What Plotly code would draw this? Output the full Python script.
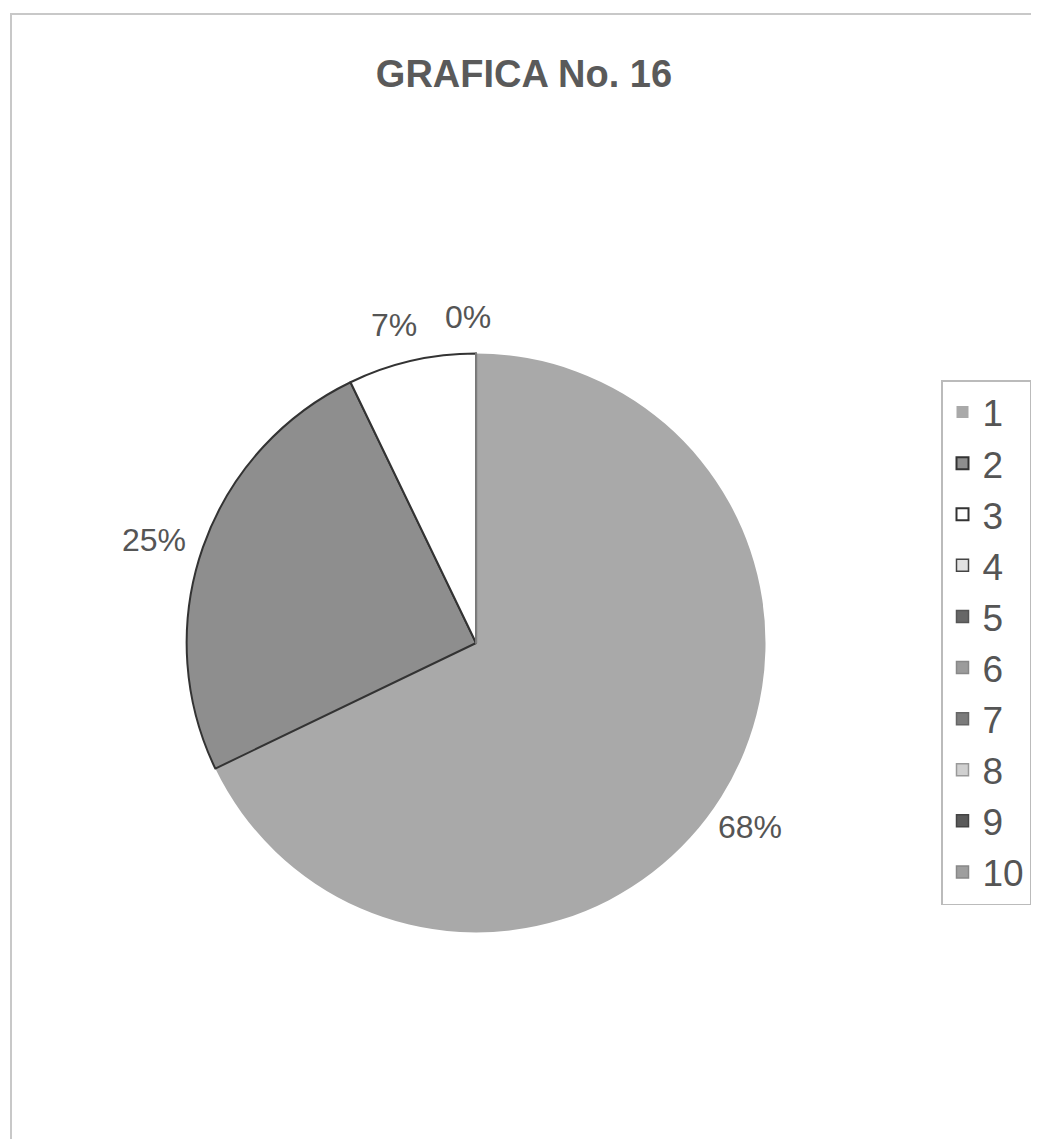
import math
import plotly.graph_objects as go

categories = ["1", "2", "3", "4", "5", "6", "7", "8", "9", "10"]
values = [19, 7, 2, 0, 0, 0, 0, 0, 0, 0]
show_label = [True, True, True, True, False, False, False, False, False, False]

colors = ["#a9a9a9", "#8e8e8e", "#ffffff", "#e2e2e2", "#676767",
          "#9b9b9b", "#7b7b7b", "#d0d0d0", "#5a5a5a", "#9e9e9e"]
line_colors = ["#a9a9a9", "#333333", "#333333", "#444444", "#555555",
               "#888888", "#666666", "#999999", "#444444", "#888888"]
line_widths = [0, 2, 2, 1.5, 1.5, 1.5, 1.5, 1.5, 1.5, 1.5]

# page body has an 8px margin; work in reference-pixel coordinates
OFF = 8
W, H = 1039 - 2 * OFF, 1147 - 2 * OFF


def px(x):
    return (x - OFF) / W


def py(y):
    return 1 - (y - OFF) / H


cx, cy, r = 477, 643, 290
label_factor = 1.15
label_dx, label_dy = -8, 7

fig = go.Figure()
fig.add_trace(go.Pie(
    labels=categories,
    values=values,
    sort=False,
    direction="clockwise",
    rotation=0,
    marker=dict(colors=colors, line=dict(color=line_colors, width=line_widths)),
    textinfo="none",
    hoverinfo="label+percent",
    domain=dict(x=[px(cx - r), px(cx + r)], y=[py(cy + r), py(cy - r)]),
))

# percentage labels placed outside at each slice's mid-angle
total = sum(values)
annotations = []
cum = 0
for lab, v, s in zip(categories, values, show_label):
    frac = v / total
    mid = (cum + frac / 2) * 2 * math.pi
    cum += frac
    if not s:
        continue
    lx = cx + label_factor * r * math.sin(mid) + label_dx
    ly = cy - label_factor * r * math.cos(mid) + label_dy
    annotations.append(dict(
        x=px(lx), y=py(ly), xref="paper", yref="paper",
        text=f"{round(frac * 100)}%", showarrow=False,
        xanchor="center", yanchor="middle",
        font=dict(family="Liberation Sans, Arial", size=32, color="#555555"),
    ))

fig.update_layout(
    width=W, height=H,
    margin=dict(l=0, r=0, t=0, b=0),
    paper_bgcolor="white",
    title=dict(text="<b>GRAFICA No. 16</b>", x=px(524), xanchor="center", y=py(74), yanchor="middle",
               font=dict(family="Liberation Sans, Arial", size=38, color="#5a5a5a")),
    legend=dict(x=px(943), xanchor="left", y=py(380), yanchor="top",
                bordercolor="#bbbbbb", borderwidth=1.5, bgcolor="white",
                font=dict(family="Liberation Sans, Arial", size=37, color="#555555"),
                traceorder="normal"),
    annotations=annotations,
    shapes=[dict(type="rect", xref="paper", yref="paper",
                 x0=px(11), x1=px(1036), y0=-0.05, y1=py(14),
                 line=dict(color="#c8c8c8", width=2))],
)

fig.write_html("out.html")
